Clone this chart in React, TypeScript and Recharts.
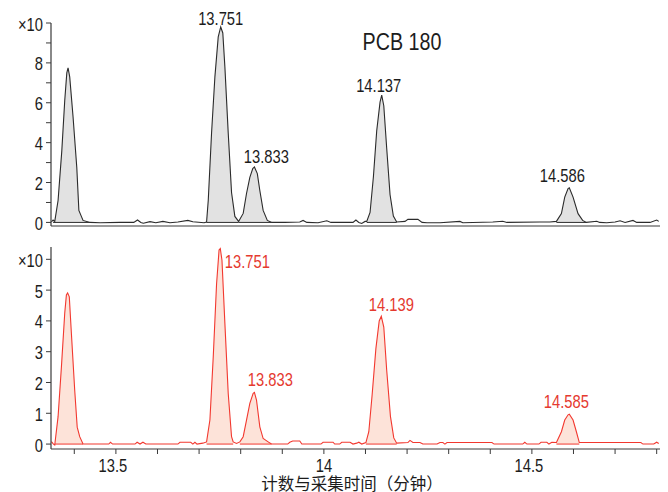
import { ComposedChart, Line, Area, XAxis, YAxis } from 'recharts';

// retention time (min), intensity (x10 scale)
const TOP_TRACE: [number, number][] = [
  [13.345, 0.02], [13.349, 0.12], [13.353, 0.05], [13.361, 1.1], [13.37, 3.6], [13.377, 6.1],
  [13.382, 7.5], [13.385, 7.75], [13.389, 7.3], [13.397, 5.3], [13.406, 2.75], [13.411, 0.6],
  [13.421, 0.1], [13.438, 0.0], [13.462, -0.02], [13.51, 0.0], [13.543, 0.0], [13.552, 0.12],
  [13.56, 0.0], [13.566, -0.04], [13.582, 0.04], [13.596, -0.02], [13.613, 0.05], [13.63, -0.02],
  [13.649, 0.02], [13.673, 0.1], [13.685, 0.03], [13.712, -0.02],
  [13.718, 0.02], [13.722, 1.1], [13.73, 4.5], [13.738, 7.3], [13.746, 9.3], [13.752, 9.8],
  [13.757, 9.5], [13.762, 7.8], [13.77, 4.5], [13.778, 1.5], [13.786, 0.3], [13.795, 0.05],
  [13.806, 0.45], [13.814, 1.45], [13.822, 2.26], [13.829, 2.7], [13.833, 2.78], [13.84, 2.45],
  [13.846, 1.6], [13.854, 0.6], [13.864, 0.1], [13.875, 0.0],
  [13.906, 0.0], [13.942, 0.02], [13.95, 0.1], [13.959, 0.0], [13.986, -0.02], [14.007, 0.08],
  [14.017, 0.0], [14.05, 0.0], [14.07, 0.0], [14.077, 0.12], [14.084, 0.0], [14.091, -0.05],
  [14.099, 0.05],
  [14.103, 0.05], [14.111, 0.5], [14.119, 2.28], [14.127, 4.6], [14.135, 6.03], [14.139, 6.38],
  [14.144, 5.85], [14.151, 3.72], [14.159, 1.4], [14.167, 0.32], [14.175, 0.02],
  [14.195, 0.05], [14.202, 0.15], [14.226, 0.15], [14.236, 0.0], [14.248, -0.02], [14.279, -0.02],
  [14.327, 0.05], [14.334, -0.02], [14.406, 0.02], [14.43, 0.06], [14.44, 0.0], [14.519, 0.02],
  [14.543, 0.02],
  [14.559, 0.05], [14.571, 0.44], [14.579, 1.27], [14.587, 1.7], [14.59, 1.74], [14.599, 1.27],
  [14.611, 0.44], [14.622, 0.1], [14.631, 0.0],
  [14.656, 0.06], [14.663, 0.0], [14.68, -0.02], [14.7, 0.02], [14.712, 0.08], [14.724, 0.0],
  [14.743, 0.1], [14.752, 0.0], [14.784, 0.0], [14.8, 0.12], [14.805, 0.05],
];

const BOTTOM_TRACE: [number, number][] = [
  [13.345, 0.08], [13.35, 0.0], [13.353, -0.03], [13.361, 0.89], [13.369, 2.5], [13.377, 4.25],
  [13.381, 4.84], [13.384, 4.91], [13.388, 4.78], [13.393, 3.6], [13.401, 1.75], [13.407, 0.55],
  [13.413, 0.24], [13.421, 0.0],
  [13.483, 0.0], [13.487, 0.06], [13.492, 0.0], [13.546, 0.0], [13.551, 0.06], [13.558, 0.0],
  [13.565, 0.06], [13.572, 0.0], [13.649, 0.0], [13.654, 0.06], [13.68, 0.06], [13.685, 0.0],
  [13.69, 0.06], [13.695, 0.0], [13.709, 0.03],
  [13.718, 0.07], [13.726, 0.78], [13.734, 2.83], [13.742, 5.2], [13.748, 6.3], [13.751, 6.35],
  [13.755, 5.97], [13.762, 3.92], [13.77, 1.65], [13.778, 0.24], [13.782, 0.07], [13.79, 0.02],
  [13.798, 0.07], [13.806, 0.24], [13.814, 0.78], [13.822, 1.32], [13.83, 1.65], [13.833, 1.68],
  [13.838, 1.43], [13.846, 0.56], [13.854, 0.18], [13.866, 0.07], [13.874, 0.0],
  [13.913, 0.0], [13.918, 0.06], [13.925, 0.1], [13.942, 0.1], [13.947, 0.0], [13.993, 0.0],
  [13.998, 0.06], [14.022, 0.06], [14.026, 0.0], [14.038, 0.0], [14.043, 0.06], [14.063, 0.06],
  [14.07, 0.0], [14.079, 0.03], [14.084, 0.06], [14.091, 0.0],
  [14.101, 0.05], [14.108, 0.4], [14.116, 1.6], [14.125, 3.1], [14.133, 4.0], [14.138, 4.15],
  [14.144, 3.8], [14.151, 2.4], [14.16, 0.9], [14.168, 0.2], [14.175, 0.03],
  [14.202, 0.05], [14.207, 0.12], [14.214, 0.05], [14.231, 0.05], [14.238, 0.0], [14.272, 0.0],
  [14.279, 0.05], [14.286, 0.05], [14.291, 0.0], [14.296, 0.05], [14.404, 0.05], [14.409, 0.0],
  [14.478, 0.0], [14.483, 0.06], [14.488, 0.0], [14.517, 0.0], [14.522, 0.06], [14.536, 0.06],
  [14.541, 0.0], [14.548, 0.06],
  [14.559, 0.05], [14.571, 0.4], [14.579, 0.78], [14.587, 0.95], [14.59, 0.97], [14.599, 0.78],
  [14.607, 0.4], [14.614, 0.05],
  [14.762, 0.05], [14.767, 0.0], [14.793, 0.0], [14.8, 0.06], [14.805, 0.02],
];

// integrated peaks: [start, end, label]
const TOP_PEAKS: [number, number, string][] = [
  [13.349, 13.438, ''],
  [13.718, 13.795, '13.751'],
  [13.795, 13.875, '13.833'],
  [14.103, 14.175, '14.137'],
  [14.559, 14.631, '14.586'],
];

const BOTTOM_PEAKS: [number, number, string][] = [
  [13.353, 13.421, ''],
  [13.718, 13.782, '13.751'],
  [13.798, 13.874, '13.833'],
  [14.101, 14.175, '14.139'],
  [14.559, 14.614, '14.585'],
];

const X_DOMAIN = [13.344, 14.808];
const X_TICKS = [13.4, 13.5, 13.6, 13.7, 13.8, 13.9, 14.0, 14.1, 14.2, 14.3, 14.4, 14.5, 14.6, 14.7, 14.8];
const X_LABELS: Record<string, string> = { '13.5': '13.5', '14.0': '14', '14.5': '14.5' };
const TOP_Y_TICKS = [0, 1, 2, 3, 4, 5, 6, 7, 8, 9, 10];
const BOTTOM_Y_TICKS = [0, 1, 2, 3, 4, 5, 6];

// label offsets from the apex (px)
const TOP_LABEL_OFFSETS = [[0, 0], [0, -10], [12, -12], [-3, -11], [-7, -13]];
const BOTTOM_LABEL_OFFSETS = [[0, 0], [27, 12], [16, -14], [10, -13], [-3, -14]];

// Arial-Narrow look: Liberation Sans squeezed horizontally
const FONT = "'Liberation Sans', Arial, sans-serif";
const SQUEEZE = 0.82;
const AXIS = '#3a3a3a';
const TEXT = '#1c1c1c';

type Pt = { t: number; v: number };
const toPts = (arr: [number, number][]): Pt[] => arr.map(([t, v]) => ({ t, v }));

const NarrowText = ({ x, y, anchor, baseline, color, size = 18, children }: any) => (
  <text
    transform={`translate(${x},${y}) scale(${SQUEEZE},1)`}
    textAnchor={anchor}
    dominantBaseline={baseline}
    fontSize={size}
    fontFamily={FONT}
    fill={color}
  >
    {children}
  </text>
);

const YTick = ({ x, y, payload, fmt }: any) => (
  <NarrowText x={x} y={y + 1} anchor="end" baseline="central" color={TEXT}>
    {fmt(payload.value)}
  </NarrowText>
);

const XTick = ({ x, y, payload }: any) => {
  const label = X_LABELS[Number(payload.value).toFixed(1)] ?? '';
  // decimal labels sit a little left of their tick in the original
  const shift = label.includes('.') ? -3 : 0;
  return (
    <NarrowText x={x + shift} y={y + 16} anchor="middle" baseline="auto" color={TEXT}>
      {label}
    </NarrowText>
  );
};

const Panel = ({ trace, peaks, offsets, width, height, margin, yDomain, yTicks, yFormat,
  stroke, fill, labelColor, bottomAxis }: any) => {
  const pts: Pt[] = toPts(trace);
  return (
    <ComposedChart width={width} height={height} margin={margin}>
      <XAxis
        type="number"
        dataKey="t"
        domain={X_DOMAIN}
        ticks={bottomAxis ? X_TICKS : undefined}
        interval={0}
        tick={bottomAxis ? <XTick /> : false}
        tickLine={bottomAxis ? { stroke: AXIS } : false}
        tickSize={5}
        tickMargin={2}
        axisLine={{ stroke: AXIS, strokeWidth: 1.2 }}
        height={bottomAxis ? 43 : 1}
      />
      <YAxis
        type="number"
        domain={yDomain}
        ticks={yTicks}
        interval={0}
        width={51}
        tickSize={5}
        tickMargin={3}
        tick={<YTick fmt={yFormat} />}
        tickLine={{ stroke: AXIS }}
        axisLine={{ stroke: AXIS, strokeWidth: 1.2 }}
      />
      {peaks.map(([s, e]: [number, number], i: number) => (
        <Area
          key={`fill${i}`}
          data={pts.filter(p => p.t >= s && p.t <= e)}
          dataKey="v"
          type="linear"
          stroke="none"
          fill={fill}
          fillOpacity={1}
          isAnimationActive={false}
          activeDot={false}
        />
      ))}
      {peaks.map(([s, e]: [number, number], i: number) => (
        <Line
          key={`base${i}`}
          data={[{ t: s, v: 0 }, { t: e, v: 0 }]}
          dataKey="v"
          type="linear"
          stroke={stroke}
          strokeWidth={1}
          dot={false}
          activeDot={false}
          isAnimationActive={false}
        />
      ))}
      <Line
        data={pts}
        dataKey="v"
        type="linear"
        stroke={stroke}
        strokeWidth={1.1}
        dot={false}
        activeDot={false}
        isAnimationActive={false}
      />
      {peaks.map(([s, e, label]: [number, number, string], i: number) => {
        if (!label) return null;
        const inPeak = pts.filter(p => p.t >= s && p.t <= e);
        const apex = inPeak.reduce((a, b) => (b.v > a.v ? b : a), inPeak[0]);
        const [dx, dy] = offsets[i];
        return (
          <Line
            key={`lab${i}`}
            data={[apex]}
            dataKey="v"
            stroke="none"
            activeDot={false}
            isAnimationActive={false}
            dot={(p: any) => (
              <g key={`t${i}`}>
                <NarrowText x={p.cx + dx} y={p.cy + dy + 1} anchor="middle" baseline="central" color={labelColor}>
                  {label}
                </NarrowText>
              </g>
            )}
          />
        );
      })}
    </ComposedChart>
  );
};

export default function App() {
  return (
    <div style={{ position: 'absolute', left: 0, top: 0, width: 668, height: 492, background: '#fff', overflow: 'hidden' }}>
      <div style={{ position: 'absolute', left: 0, top: 0 }}>
        <Panel
          trace={TOP_TRACE}
          peaks={TOP_PEAKS}
          offsets={TOP_LABEL_OFFSETS}
          width={668}
          height={232}
          margin={{ top: 23, right: 8, bottom: 5, left: 0 }}
          yDomain={[-0.18, 10]}
          yTicks={TOP_Y_TICKS}
          yFormat={(v: number) => (v === 10 ? '×10' : v % 2 === 0 ? String(v) : '')}
          stroke="#2b2b2b"
          fill="#e2e2e2"
          labelColor={TEXT}
          bottomAxis={false}
        />
      </div>
      <div style={{ position: 'absolute', left: 0, top: 232 }}>
        <Panel
          trace={BOTTOM_TRACE}
          peaks={BOTTOM_PEAKS}
          offsets={BOTTOM_LABEL_OFFSETS}
          width={668}
          height={260}
          margin={{ top: 15, right: 8, bottom: 0, left: 0 }}
          yDomain={[-0.16, 6.4]}
          yTicks={BOTTOM_Y_TICKS}
          yFormat={(v: number) => (v === 6 ? '×10' : String(v))}
          stroke="#f2382f"
          fill="#fde3d9"
          labelColor="#e53a2f"
          bottomAxis
        />
      </div>
      <div style={{ position: 'absolute', left: 302, top: 30, width: 200, textAlign: 'center', fontFamily: FONT, fontSize: 24, lineHeight: '24px', color: TEXT, transform: `scaleX(${SQUEEZE})` }}>
        PCB 180
      </div>
      <div style={{ position: 'absolute', left: 252, top: 475, width: 200, textAlign: 'center', fontFamily: "'Noto Sans CJK SC', sans-serif", fontSize: 16.5, lineHeight: '16px', color: TEXT }}>
        计数与采集时间（分钟）
      </div>
    </div>
  );
}
